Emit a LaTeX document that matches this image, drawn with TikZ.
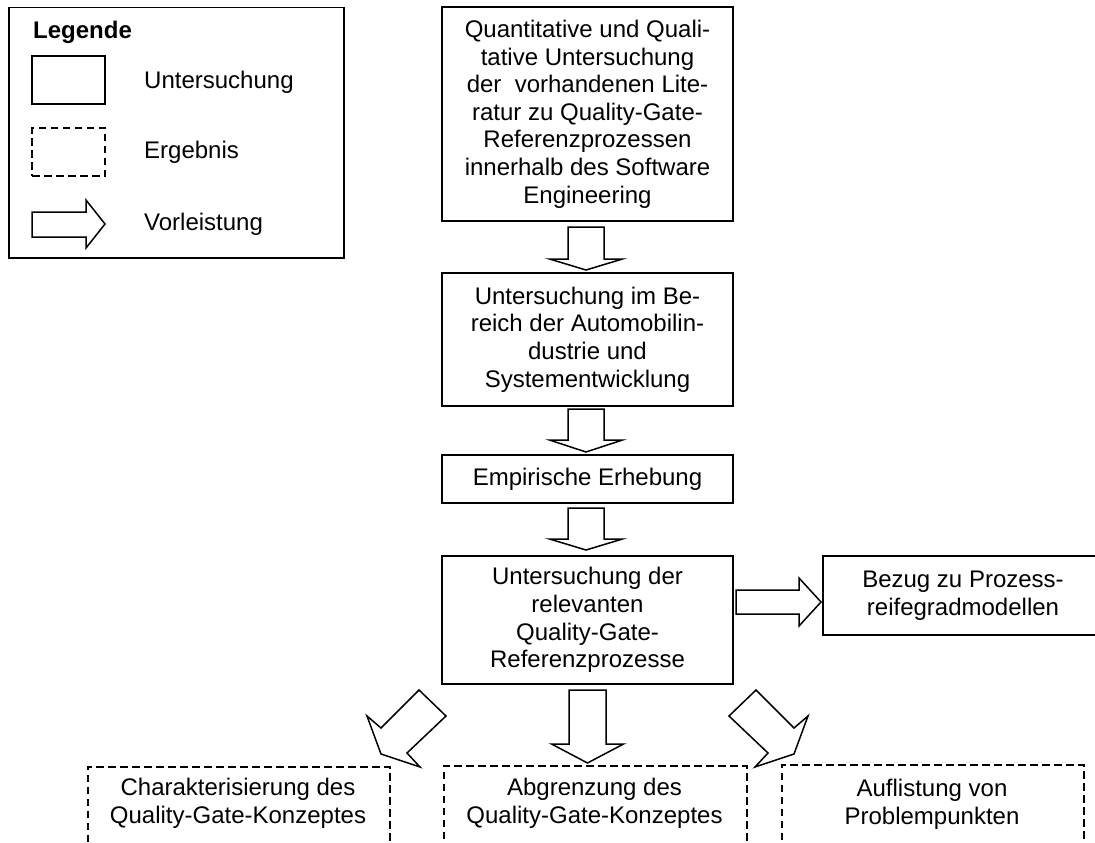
\documentclass[tikz,border=0pt]{standalone}
\usepackage{fontspec}
\setmainfont{Liberation Sans}
\newcommand\fsz{\fontsize{24}{27.6}\selectfont}
\newcommand\vblk[6]{% center x, top y, head base y, tip y, body half, head half
  \draw[blk] (#1-#5,#2) -- (#1+#5,#2) -- (#1+#5,#3) -- (#1+#6,#3) -- (#1,#4) -- (#1-#6,#3) -- (#1-#5,#3) -- cycle;}
\begin{document}
\begin{tikzpicture}[x=1pt,y=-1pt,
  box/.style={draw, line width=1.5pt, inner sep=0pt, align=center, font=\fsz},
  resbox/.style={draw, line width=1.5pt, dash pattern=on 7.5pt off 4.5pt, inner sep=0pt},
  txt/.style={inner sep=0pt, align=center, font=\fsz},
  blk/.style={draw, line width=1.5pt, fill=white, line join=miter}]
\useasboundingbox (0,0) rectangle (1095,843);
\begin{scope}
\clip (0,0) rectangle (1095,843);
% legend
\node[draw, line width=1.5pt, minimum width=335pt, minimum height=250pt, inner sep=0pt, anchor=north west] (leg) at (8,7) {};
\node[txt, anchor=west, font=\fsz\bfseries] (legt) at (33,32) {Legende};
\node[box, minimum width=73pt, minimum height=48pt] (legu) at (68.5,80) {};
\node[txt, anchor=west] (legut) at (144,82) {Untersuchung};
\node[resbox, minimum width=73pt, minimum height=48pt] (lege) at (68.5,152) {};
\node[txt, anchor=west] (leget) at (144,152) {Ergebnis};
\draw[blk] (32,212) -- (86,212) -- (86,200) -- (105,224) -- (86,248) -- (86,237) -- (32,237) -- cycle;
\node[txt, anchor=west] (legvt) at (144,224) {Vorleistung};
% main column
\node[box, minimum width=291pt, minimum height=214pt] (b1) at (587.5,114)
  {Quantitative und Quali-\\tative Untersuchung\\der~ vorhandenen Lite-\\ratur zu Quality-Gate-\\Referenzprozessen\\innerhalb des Software\\Engineering};
\node[box, minimum width=291pt, minimum height=133pt] (b2) at (587.5,339.5)
  {Untersuchung im Be-\\reich der Automobilin-\\dustrie und\\Systementwicklung};
\node[box, minimum width=291pt, minimum height=48pt] (b3) at (587.5,479) {Empirische Erhebung};
\node[box, minimum width=291pt, minimum height=128pt] (b4) at (587.5,620)
  {Untersuchung der\\relevanten\\Quality-Gate-\\Referenzprozesse};
\node[box, minimum width=280pt, minimum height=79pt] (b5) at (963,595.5)
  {Bezug zu Prozess-\\reifegradmodellen};
% block arrows
\vblk{586}{227}{259}{270}{18}{36.5}
\vblk{586}{409}{440}{452}{18}{36.5}
\vblk{586}{508}{539}{550}{18}{36.5}
\vblk{587.5}{690}{744}{763}{18.5}{36}
\draw[blk] (736,590) -- (799,590) -- (799,578) -- (821,602) -- (799,626) -- (799,614) -- (736,614) -- cycle;
\draw[blk] (419,690) -- (446,716) -- (407,753) -- (420,767) -- (381,754) -- (367,716) -- (381,728) -- cycle;
\draw[blk] (756,690) -- (729,716) -- (768,753) -- (755,767) -- (794,754) -- (808,716) -- (794,728) -- cycle;
% results
\node[resbox, minimum width=302pt, minimum height=120pt, anchor=north west] (r1) at (87,766) {};
\node[txt] (r1t) at (238,803.5) {Charakterisierung des\\Quality-Gate-Konzeptes};
\node[resbox, minimum width=303pt, minimum height=120pt, anchor=north west] (r2) at (443,765) {};
\node[txt] (r2t) at (594.5,803.5) {Abgrenzung des\\Quality-Gate-Konzeptes};
\node[resbox, minimum width=302pt, minimum height=120pt, anchor=north west] (r3) at (781,764) {};
\node[txt] (r3t) at (932,804) {Auflistung von\\Problempunkten};
\end{scope}
\end{tikzpicture}
\end{document}
